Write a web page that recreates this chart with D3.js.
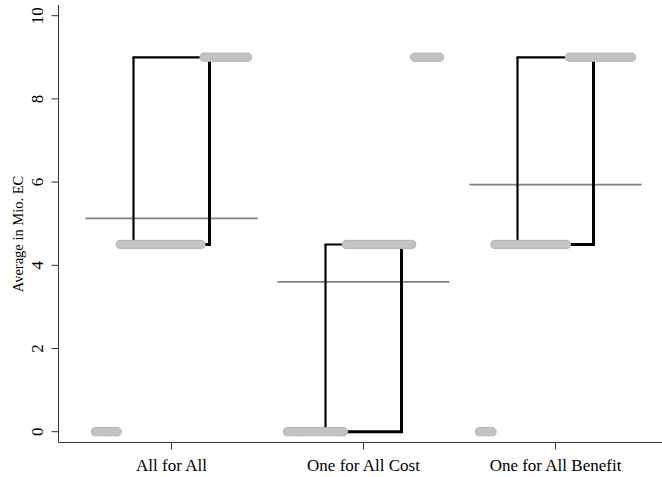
<!DOCTYPE html>
<html>
<head>
<meta charset="utf-8">
<script src="https://cdn.jsdelivr.net/npm/d3@7"></script>
<style>
  html, body { margin: 0; padding: 0; background: #fff; }
  svg { display: block; }
  text { font-family: "Liberation Serif", "Times New Roman", serif; fill: #000; }
</style>
</head>
<body>
<svg id="chart" width="662" height="477"></svg>
<script>
// ---- data ----
const categories = ["All for All", "One for All Cost", "One for All Benefit"];
const values = [0, 4.5, 9];                 // distinct observed values (Mio. EC)
const countsAllForAll = [8, 27, 15];         // number of observations at 0, 4.5, 9
const countsCost      = [19, 22, 9];
const countsBenefit   = [5, 24, 21];
const yTicks = [0, 2, 4, 6, 8, 10];
const yTitle = "Average in Mio. EC";

const countsByCategory = [countsAllForAll, countsCost, countsBenefit];

// ---- layout ----
const svg = d3.select("#chart");
const axisLeftX = 58.5, axisBottomY = 442.5, axisTopY = 5;

const y = d3.scaleLinear().domain([0, 10]).range([431.7, 15.7]);
const x = d3.scalePoint().domain(categories).range([171.5, 555.5]);
const spread = d3.scaleLinear().domain([0, 1]).range([-76, 76]); // position by rank fraction
const meanHalf = 86;

// expand counts to sorted observations
const groups = categories.map((c, ci) => {
  const obs = [];
  countsByCategory[ci].forEach((n, vi) => { for (let k = 0; k < n; k++) obs.push(values[vi]); });
  obs.sort(d3.ascending);
  return { cat: c, obs };
});

// ---- axes ----
// y axis line
svg.append("line").attr("x1", axisLeftX).attr("x2", axisLeftX)
  .attr("y1", axisTopY).attr("y2", axisBottomY)
  .attr("stroke", "#333").attr("stroke-width", 1);
// y ticks
const yg = svg.append("g");
yTicks.forEach(t => {
  yg.append("line").attr("x1", axisLeftX - 7).attr("x2", axisLeftX)
    .attr("y1", y(t)).attr("y2", y(t)).attr("stroke", "#333").attr("stroke-width", 1);
  yg.append("text").attr("transform", `translate(43,${y(t)}) rotate(-90)`)
    .attr("text-anchor", "middle").attr("font-size", 17).text(t);
});
svg.append("text").attr("transform", `translate(23,234) rotate(-90)`)
  .attr("text-anchor", "middle").attr("font-size", 14.5).text(yTitle);

// x axis line
svg.append("line").attr("x1", axisLeftX).attr("x2", 662)
  .attr("y1", axisBottomY).attr("y2", axisBottomY)
  .attr("stroke", "#333").attr("stroke-width", 1);
categories.forEach(c => {
  svg.append("line").attr("x1", x(c)).attr("x2", x(c))
    .attr("y1", axisBottomY).attr("y2", axisBottomY + 7)
    .attr("stroke", "#333").attr("stroke-width", 1);
  svg.append("text").attr("x", x(c)).attr("y", 470.5)
    .attr("text-anchor", "middle").attr("font-size", 17).text(c);
});

// ---- marks ----
groups.forEach(g => {
  const cx = x(g.cat);
  const n = g.obs.length;
  const mean = d3.mean(g.obs);
  const q1 = d3.quantile(g.obs, 0.25);
  const q3 = d3.quantile(g.obs, 0.75);

  // mean line
  svg.append("line").attr("x1", cx - meanHalf).attr("x2", cx + meanHalf)
    .attr("y1", y(mean)).attr("y2", y(mean))
    .attr("stroke", "#7f7f7f").attr("stroke-width", 1.7);

  // box (quartiles), positioned at 25% / 75% of the rank spread
  const xl = cx + spread(0.25), xr = cx + spread(0.75);
  const bx = svg.append("g").attr("stroke", "#000").attr("fill", "none");
  bx.append("line").attr("x1", xl).attr("x2", xl).attr("y1", y(q1)).attr("y2", y(q3)).attr("stroke-width", 2.2);
  bx.append("line").attr("x1", xl - 1.1).attr("x2", xr).attr("y1", y(q3)).attr("y2", y(q3)).attr("stroke-width", 2.2);
  bx.append("line").attr("x1", xr).attr("x2", xr).attr("y1", y(q3) - 1.1).attr("y2", y(q1) + 1.5).attr("stroke-width", 3);
  bx.append("line").attr("x1", xl).attr("x2", xr).attr("y1", y(q1)).attr("y2", y(q1)).attr("stroke-width", 3);

  // points: quantile positions
  const pts = g.obs.map((v, i) => ({ v, px: cx + spread(i / (n - 1)) }));
  const pg = svg.append("g");
  pg.selectAll("circle.o").data(pts).join("circle").attr("class", "o")
    .attr("cx", d => d.px).attr("cy", d => y(d.v)).attr("r", 4.7).attr("fill", "#b2b2b2");
  pg.selectAll("circle.i").data(pts).join("circle").attr("class", "i")
    .attr("cx", d => d.px).attr("cy", d => y(d.v)).attr("r", 4.0).attr("fill", "#c3c3c3");
});
</script>
</body>
</html>
